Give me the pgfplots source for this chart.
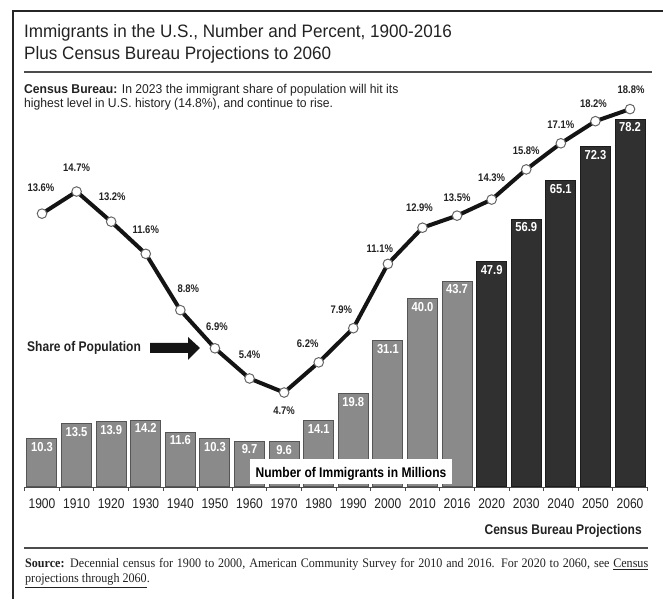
\documentclass[border=0pt]{standalone}
\usepackage{fontspec}
\setmainfont{Liberation Sans}
\newfontfamily\cond{Liberation Sans}[FakeStretch=0.86]
\newfontfamily\titlef{Liberation Sans}[FakeStretch=0.95]
\newfontfamily\serif{Liberation Serif}[FakeStretch=0.93]
\usepackage{pgfplots}
\usepackage{pgfplotstable}
\pgfplotsset{compat=1.18}
\definecolor{txt}{HTML}{222222}
\definecolor{histbar}{HTML}{8A8A8A}
\definecolor{histedge}{HTML}{555555}
\definecolor{projbar}{HTML}{303030}
\definecolor{projedge}{HTML}{1C1C1C}

\pgfplotstableread{
x v
0 10.3
1 13.5
2 13.9
3 14.2
4 11.6
5 10.3
6 9.7
7 9.6
8 14.1
9 19.8
10 31.1
11 40.0
12 43.7
}\hist
\pgfplotstableread{
x v
13 47.9
14 56.9
15 65.1
16 72.3
17 78.2
}\proj
\pgfplotstableread{
x y dx dy
0 13.6 -1 26
1 14.7 0 24
2 13.2 1 25
3 11.6 0 24
4 8.8 8 21
5 6.9 2 22
6 5.4 0 24
7 4.7 0 -18
8 6.2 -11 19
9 7.9 -12 18
10 11.1 -8 15
11 12.9 -3 20
12 13.5 0 18
13 14.3 0 22
14 15.8 0 19
15 17.1 0 19
16 18.2 -2 17
17 18.8 1 19
}\pct

\pgfplotsset{base/.style={at={(24.7pt,112pt)}, anchor=south west, scale only axis,
  width=622.6pt, height=387pt, xmin=-0.5, xmax=17.5, ymin=0, clip=false}}

\begin{document}
\begin{tikzpicture}
\useasboundingbox (0pt,0pt) rectangle (663pt,599pt);
\begin{scope}[x=1pt,y=1pt]
% frame
\draw[line width=1.4pt, black!85] (13,0) -- (13,588) -- (663,588);
% titles
\node[anchor=base west, inner sep=0, text=txt, font=\titlef\fontsize{18}{22}\selectfont] at (24,561) {Immigrants in the U.S., Number and Percent, 1900-2016};
\node[anchor=base west, inner sep=0, text=txt, font=\titlef\fontsize{18}{22}\selectfont] at (24,539) {Plus Census Bureau Projections to 2060};
\draw[line width=1.8pt, black!70] (24,527) -- (652,527);
\node[anchor=base west, inner sep=0, text=txt, font=\titlef\fontsize{12.8}{14}\selectfont] at (24,505) {\textbf{Census Bureau:} In 2023 the immigrant share of population will hit its};
\node[anchor=base west, inner sep=0, text=txt, font=\titlef\fontsize{12.8}{14}\selectfont] at (24,491) {highest level in U.S. history (14.8\%), and continue to rise.};
\end{scope}

% bars
\begin{axis}[base, ymax=82.24,
  axis x line*=bottom, axis y line=none,
  x axis line style={black!70, line width=0.8pt},
  xtick={0,...,17},
  xticklabels={1900,1910,1920,1930,1940,1950,1960,1970,1980,1990,2000,2010,2016,2020,2030,2040,2050,2060},
  major tick length=0pt,
  minor xtick={-0.5,0.5,...,17.5},
  minor tick length=4pt, tick align=outside,
  minor tick style={black!70, line width=0.8pt},
  xticklabel style={anchor=base, inner sep=0pt, yshift=-22pt, text=txt, font=\cond\fontsize{14}{14}\selectfont},
  /pgf/number format/.cd, fixed, fixed zerofill, precision=1, assume math mode=true,
  /pgfplots/.cd,
  ybar, bar width=30pt,
  nodes near coords,
  nodes near coords style={anchor=north, yshift=-2pt, inner sep=1pt, text=white, font=\cond\bfseries\fontsize{13}{13}\selectfont},
]
\addplot[fill=histbar, draw=histedge, line width=1pt, bar shift=0pt] table[x=x,y=v]{\hist};
\addplot[fill=projbar, draw=projedge, line width=1pt, bar shift=0pt] table[x=x,y=v]{\proj};
\end{axis}

\begin{scope}[x=1pt,y=1pt]
% label box
\fill[white] (250,115) rectangle (452,140);
\node[anchor=base, inner sep=0, text=black, font=\cond\bfseries\fontsize{14}{14}\selectfont] at (351,121) {Number of Immigrants in Millions};
\end{scope}

% share line
\begin{axis}[base, ymax=19.254, hide axis,
  /pgf/number format/.cd, fixed, fixed zerofill, precision=1, assume math mode=true,
  /pgfplots/.cd]
\addplot[line width=4pt, black!92, mark=*, mark size=4.8pt,
  mark options={fill=white, draw=black!60, line width=1pt, solid},
  visualization depends on={\thisrow{dx}\as\dx},
  visualization depends on={\thisrow{dy}\as\dy},
  nodes near coords={\pgfmathprintnumber{\pgfplotspointmeta}\%},
  every node near coord/.append style={anchor=center, xshift=\dx*1pt, yshift=\dy*1pt, inner sep=0pt, text=txt, font=\cond\bfseries\fontsize{11}{11}\selectfont}]
  table[x=x,y=y]{\pct};
\end{axis}

\begin{scope}[x=1pt,y=1pt]
% share of population annotation
\node[anchor=base west, inner sep=0, text=txt, font=\cond\bfseries\fontsize{14}{14}\selectfont] at (27,247) {Share of Population};
\fill[black!92] (150,246) -- (188,246) -- (188,239) -- (200,251) -- (188,262) -- (188,256) -- (150,256) -- cycle;

% bottom
\node[anchor=base east, inner sep=0, text=txt, font=\cond\bfseries\fontsize{14}{14}\selectfont] at (642,64) {Census Bureau Projections};
\draw[line width=1.8pt, black!70] (24,51) -- (648,51);
\node[anchor=base west, inner sep=0, text=txt, font=\serif\fontsize{13}{15}\selectfont] at (25,31) {\parbox[t]{623pt}{\textbf{Source:} Decennial census for 1900 to 2000, American Community Survey for 2010 and 2016. For 2020 to 2060, see \underline{Census}\linebreak \underline{projections through 2060}.}};
\end{scope}
\end{tikzpicture}
\end{document}
